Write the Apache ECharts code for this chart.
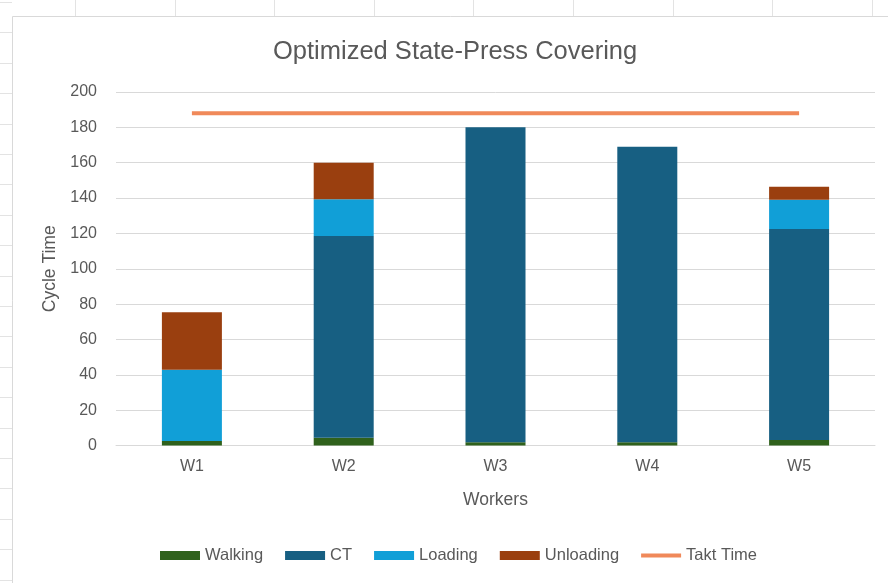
<!DOCTYPE html>
<html>
<head>
<meta charset="utf-8">
<title>Optimized State-Press Covering</title>
<script src="https://cdn.jsdelivr.net/npm/echarts@6/dist/echarts.min.js"></script>
<style>
    html, body { margin: 0; padding: 0; background: #fff; }
    #chartmain { width: 888px; height: 583px; }
</style>
</head>
<body>
<div id="chartmain"></div>
<script>
// 数据
const workers = ['W1', 'W2', 'W3', 'W4', 'W5'];
const walking = [2.5, 4.4, 1.8, 1.8, 3.1];
const ct = [0, 114.1, 178.2, 167.2, 119.4];
const loading = [40.4, 20.8, 0, 0, 16.5];
const unloading = [32.5, 20.7, 0, 0, 7.4];
const taktTime = [188, 188, 188, 188, 188];
const yTicks = { min: 0, max: 200, interval: 20 };

const chart = echarts.init(document.getElementById('chartmain'));

const textGray = '#595959';
const font = '"Liberation Sans", Arial, sans-serif';

// 背景的表格线（仅装饰）
const sheetLines = [];
for (let x = 75; x < 888; x += 99.6) {
    sheetLines.push({
        type: 'line', silent: true, z: -10,
        shape: { x1: Math.round(x) + 0.5, y1: 0, x2: Math.round(x) + 0.5, y2: 16 },
        style: { stroke: '#e3e3e3', lineWidth: 1 }
    });
}
for (let y = 2; y < 583; y += 30.4) {
    sheetLines.push({
        type: 'line', silent: true, z: -10,
        shape: { x1: 0, y1: Math.round(y) + 0.5, x2: 12, y2: Math.round(y) + 0.5 },
        style: { stroke: '#e3e3e3', lineWidth: 1 }
    });
}
sheetLines.push({
    type: 'rect', silent: true, z: -9,
    shape: { x: 12.5, y: 16.5, width: 900, height: 600 },
    style: { fill: '#fff', stroke: '#d9d9d9', lineWidth: 1 }
});

function barSeries(name, data, color) {
    return {
        name: name,
        type: 'bar',
        stack: 'total',
        data: data,
        barWidth: 60,
        itemStyle: { color: color },
        emphasis: { disabled: true }
    };
}

const option = {
    animation: false,
    graphic: sheetLines,
    title: {
        text: 'Optimized State-Press Covering',
        left: 268,
        top: 34,
        textStyle: { color: textGray, fontSize: 25.5, fontWeight: 'normal', fontFamily: font }
    },
    legend: {
        bottom: 14,
        left: 155,
        itemWidth: 40,
        itemHeight: 9,
        itemGap: 22,
        textStyle: { color: textGray, fontSize: 16.5, fontFamily: font },
        data: [
            { name: 'Walking', icon: 'rect' },
            { name: 'CT', icon: 'rect' },
            { name: 'Loading', icon: 'rect' },
            { name: 'Unloading', icon: 'rect' },
            { name: 'Takt Time', icon: 'path://M0,0 L40,0 L40,4 L0,4 Z', itemHeight: 4 }
        ]
    },
    grid: {
        left: 116,
        right: 13,
        top: 92,
        bottom: 137.5
    },
    xAxis: {
        type: 'category',
        data: workers,
        name: 'Workers',
        nameLocation: 'middle',
        nameGap: 46,
        nameTextStyle: { color: textGray, fontSize: 17.5, fontFamily: font },
        axisTick: { show: false },
        axisLine: { lineStyle: { color: '#d9d9d9', width: 1 } },
        axisLabel: { color: textGray, fontSize: 16, fontFamily: font, margin: 13 }
    },
    yAxis: {
        type: 'value',
        min: yTicks.min,
        max: yTicks.max,
        interval: yTicks.interval,
        name: 'Cycle Time',
        nameLocation: 'middle',
        nameGap: 55,
        nameTextStyle: { color: textGray, fontSize: 17.5, fontFamily: font },
        axisLine: { show: false },
        axisTick: { show: false },
        axisLabel: { color: textGray, fontSize: 16, fontFamily: font, margin: 19 },
        splitLine: { lineStyle: { color: '#d9d9d9', width: 1 } }
    },
    series: [
        barSeries('Walking', walking, '#2f611c'),
        barSeries('CT', ct, '#175f82'),
        barSeries('Loading', loading, '#119fd7'),
        barSeries('Unloading', unloading, '#9a3f0f'),
        {
            name: 'Takt Time',
            type: 'line',
            data: taktTime,
            symbol: 'none',
            lineStyle: { color: '#f0895a', width: 4 },
            itemStyle: { color: '#f0895a' },
            emphasis: { disabled: true }
        }
    ]
};

chart.setOption(option);
window.addEventListener('resize', function () {
    chart.resize();
});
</script>
</body>
</html>
